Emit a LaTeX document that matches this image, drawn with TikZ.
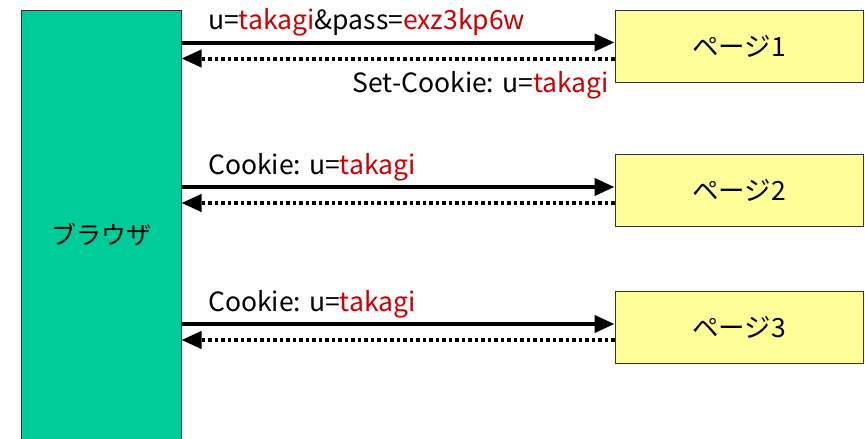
\documentclass[tikz,border=0pt]{standalone}
\usepackage{fontspec}
\setmainfont{Noto Sans CJK JP}
\usetikzlibrary{arrows.meta,calc}
\definecolor{browsergreen}{HTML}{00CC99}
\definecolor{pageyellow}{HTML}{FFFF99}
\definecolor{valred}{HTML}{CC0000}
\newcommand{\rv}[1]{\textcolor{valred}{#1}}
\begin{document}
\begin{tikzpicture}[x=1pt,y=-1pt,
  browserbox/.style={draw=black!80, line width=1pt, fill=browsergreen, minimum width=160pt, minimum height=450pt, inner sep=0pt, font=\fontsize{25}{30}\selectfont},
  pagebox/.style={draw=black!80, line width=1pt, fill=pageyellow, minimum width=248pt, minimum height=72pt, inner sep=0pt, font=\fontsize{26.5}{30}\selectfont},
  lbl/.style={inner sep=0pt, font=\fontsize{26.5}{30}\selectfont},
  req/.style={line width=4pt, -{Triangle[length=20pt,width=17pt]}},
  resp/.style={line width=4pt, dash pattern=on 3.5pt off 3pt, -{Triangle[length=20pt,width=17pt]}},
]
\useasboundingbox (0,0) rectangle (865,439);
\node[browserbox] (browser) at (101,235) {ブラウザ};
\node[pagebox] (p1) at (739,46) {ページ1};
\node[pagebox] (p2) at (739,190.5) {ページ2};
\node[pagebox] (p3) at (739,327.5) {ページ3};
\foreach \p in {p1,p2,p3}{
  \coordinate (\p s) at ($(\p.west)+(0,-3.5)$);
  \coordinate (\p d) at ($(\p.west)+(0,12.5)$);
  \draw[req] (browser.east |- \p s) -- (\p s);
  \draw[resp] (\p d) -- (browser.east |- \p d);
}
\node[lbl, anchor=base west] (l1) at (208,29) {u=\rv{takagi}\&pass=\rv{exz3kp6w}};
\node[lbl, anchor=base east] (l1b) at (609,92) {Set-Cookie: u=\rv{takagi}};
\node[lbl, anchor=base west] (l2) at (208,174) {Cookie: u=\rv{takagi}};
\node[lbl, anchor=base west] (l3) at (208,311) {Cookie: u=\rv{takagi}};
\end{tikzpicture}
\end{document}
